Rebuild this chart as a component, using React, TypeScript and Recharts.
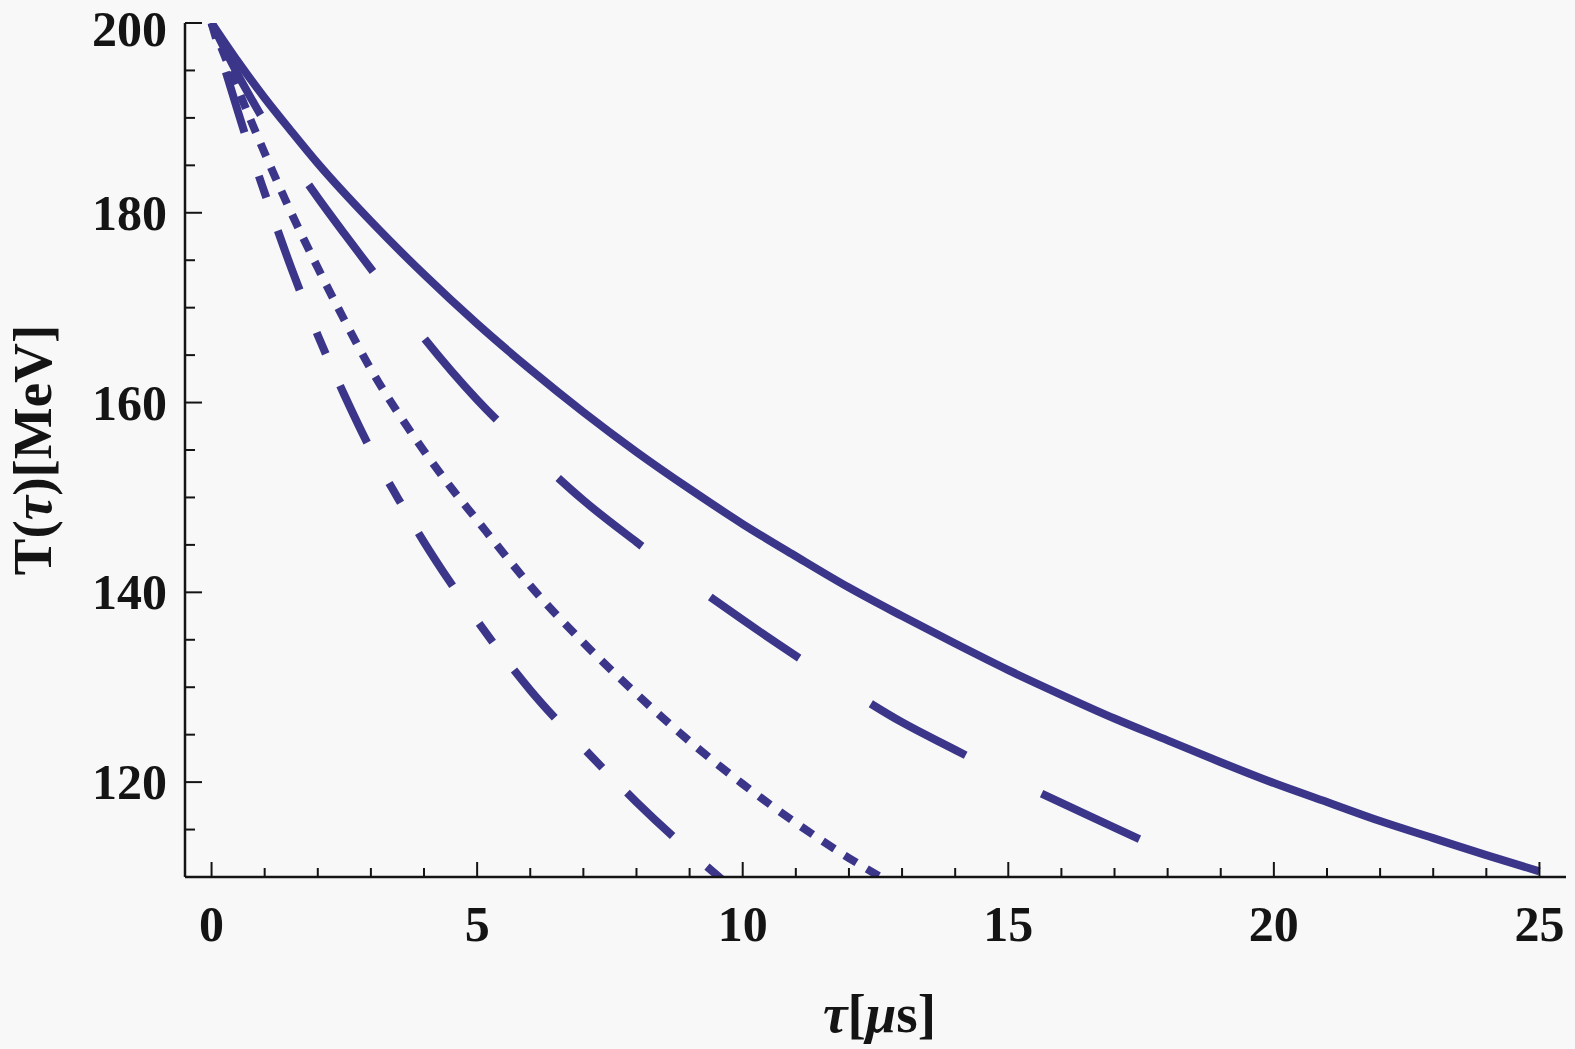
import { Label, Line, LineChart, XAxis, YAxis } from 'recharts'

// tau in microseconds, T in MeV
const solidTau = [0, 0.5, 1, 1.5, 2, 3, 4, 5, 6, 7, 8, 9, 10, 11, 12, 13, 14, 15, 16, 17, 18, 19, 20, 21, 22, 23, 24, 25]
const solidT = [200, 195.9, 192.1, 188.6, 185.2, 179.1, 173.5, 168.3, 163.5, 159.0, 154.8, 150.9, 147.2, 143.8, 140.5, 137.5, 134.6, 131.8, 129.2, 126.7, 124.4, 122.1, 119.9, 117.9, 115.9, 114.1, 112.3, 110.6]

const longDashTau = [0, 0.25, 0.5, 0.75, 1, 1.5, 2, 2.5, 3, 3.5, 4, 5, 6, 7, 8, 9, 10, 11, 12, 13, 14, 15, 16, 17, 18, 18.5]
const longDashT = [200, 197.2, 194.5, 192.0, 189.6, 185.6, 181.6, 177.8, 174.1, 170.4, 166.8, 160.3, 154.8, 149.7, 145.3, 141.1, 137.1, 133.3, 129.7, 126.3, 123.4, 120.5, 117.8, 115.2, 112.6, 111.3]

const dottedTau = [0, 0.25, 0.5, 0.75, 1, 1.5, 2, 2.5, 3, 3.5, 4, 4.5, 5, 5.5, 6, 7, 8, 9, 10, 11, 12, 13]
const dottedT = [200, 196.5, 193.0, 189.6, 186.3, 180.0, 174.2, 168.7, 163.5, 159.0, 154.9, 151.1, 147.6, 144.1, 140.7, 134.7, 129.3, 124.3, 119.8, 115.7, 112.0, 108.7]

const dashDotTau = [0, 0.25, 0.5, 0.75, 1, 1.5, 2, 2.5, 3, 3.5, 4, 4.5, 5, 5.5, 6, 7, 8, 9, 10]
const dashDotT = [200, 195.2, 190.6, 186.2, 182.1, 174.2, 167.1, 160.8, 155.0, 150.0, 145.3, 141.0, 137.0, 133.2, 129.7, 123.6, 117.9, 112.7, 107.9]

const xTicks = [0, 1, 2, 3, 4, 5, 6, 7, 8, 9, 10, 11, 12, 13, 14, 15, 16, 17, 18, 19, 20, 21, 22, 23, 24, 25]
const yTicks = [115, 120, 125, 130, 135, 140, 145, 150, 155, 160, 165, 170, 175, 180, 185, 190, 195, 200]

const toPoints = (tau: number[], temp: number[]) => tau.map((t, i) => ({ tau: t, T: temp[i] }))

const solid = toPoints(solidTau, solidT)
const longDash = toPoints(longDashTau, longDashT)
const dotted = toPoints(dottedTau, dottedT)
const dashDot = toPoints(dashDotTau, dashDotT)

const INK = '#141414'
const LINE = '#3b3689'
const FONT = '"Liberation Serif", "Times New Roman", serif'

function BottomTick({ x, y, payload }: any) {
  const major = payload.value % 5 === 0
  return (
    <g>
      <line x1={x} x2={x} y1={y} y2={y - (major ? 15 : 9)} stroke={INK} strokeWidth={2} />
      {major && (
        <text x={x} y={y + 64} textAnchor="middle" fontFamily={FONT} fontWeight="bold" fontSize={50} fill={INK}>
          {payload.value}
        </text>
      )}
    </g>
  )
}

function TopTick({ x, y, payload }: any) {
  const major = payload.value % 5 === 0
  return <line x1={x} x2={x} y1={y} y2={y + (major ? 15 : 9)} stroke={INK} strokeWidth={2} />
}

function LeftTick({ x, y, payload }: any) {
  const major = payload.value % 20 === 0
  // the top label sits a little lower so it stays inside the page
  const baseline = Math.max(y + 17, 46)
  return (
    <g>
      <line x1={x} x2={x + (major ? 17 : 10)} y1={y} y2={y} stroke={INK} strokeWidth={2} />
      {major && (
        <text x={x - 18} y={baseline} textAnchor="end" fontFamily={FONT} fontWeight="bold" fontSize={50} fill={INK}>
          {payload.value}
        </text>
      )}
    </g>
  )
}

function RightTick({ x, y, payload }: any) {
  const major = payload.value % 20 === 0
  return <line x1={x} x2={x - (major ? 17 : 10)} y1={y} y2={y} stroke={INK} strokeWidth={2} />
}

function XTitle({ viewBox }: any) {
  const cx = viewBox.x + viewBox.width / 2 + 4
  return (
    <text x={cx} y={1032} textAnchor="middle" fontFamily={FONT} fontWeight="bold" fontSize={55} fill={INK}>
      <tspan fontStyle="italic">τ</tspan>
      <tspan>[</tspan>
      <tspan fontStyle="italic">μ</tspan>
      <tspan>s]</tspan>
    </text>
  )
}

function YTitle({ viewBox }: any) {
  const cy = viewBox.y + viewBox.height / 2
  const bx = 51
  return (
    <text
      x={bx}
      y={cy}
      transform={`rotate(-90, ${bx}, ${cy})`}
      textAnchor="middle"
      fontFamily={FONT}
      fontWeight="bold"
      fontSize={55}
      fill={INK}
    >
      T(<tspan fontStyle="italic">τ</tspan>)[MeV]
    </text>
  )
}

export default function App() {
  return (
    <div style={{ position: 'fixed', left: 0, top: 0, width: 1575, height: 1049, background: '#f8f8f8' }}>
      <LineChart width={1575} height={1049} margin={{ top: 23, right: 9, left: 0, bottom: 0 }}>
        <XAxis
          xAxisId="b"
          type="number"
          dataKey="tau"
          domain={[-0.5, 25.5]}
          allowDataOverflow
          ticks={xTicks}
          interval={0}
          height={172}
          tickSize={0}
          tickMargin={0}
          tickLine={false}
          tick={<BottomTick />}
          axisLine={{ stroke: INK, strokeWidth: 2.5 }}
          label={<Label content={XTitle} />}
        />
        <XAxis
          xAxisId="t"
          orientation="top"
          type="number"
          dataKey="tau"
          domain={[-0.5, 25.5]}
          allowDataOverflow
          ticks={xTicks}
          interval={0}
          height={0}
          tickSize={0}
          tickMargin={0}
          tickLine={false}
          tick={<TopTick />}
          axisLine={{ stroke: INK, strokeWidth: 2.5 }}
        />
        <YAxis
          yAxisId="l"
          type="number"
          domain={[110, 200]}
          allowDataOverflow
          ticks={yTicks}
          interval={0}
          width={185}
          tickSize={0}
          tickMargin={0}
          tickLine={false}
          tick={<LeftTick />}
          axisLine={{ stroke: INK, strokeWidth: 2.5 }}
          label={<Label content={YTitle} />}
        />
        <YAxis
          yAxisId="r"
          orientation="right"
          type="number"
          domain={[110, 200]}
          allowDataOverflow
          ticks={yTicks}
          interval={0}
          width={0}
          tickSize={0}
          tickMargin={0}
          tickLine={false}
          tick={<RightTick />}
          axisLine={{ stroke: INK, strokeWidth: 2.5 }}
        />
        <Line
          xAxisId="b"
          yAxisId="l"
          data={dashDot}
          dataKey="T"
          type="monotone"
          stroke={LINE}
          strokeWidth={8}
          strokeDasharray="63 46 23 35"
          strokeDashoffset={116}
          dot={false}
          activeDot={false}
          isAnimationActive={false}
        />
        <Line
          xAxisId="b"
          yAxisId="l"
          data={dotted}
          dataKey="T"
          type="monotone"
          stroke={LINE}
          strokeWidth={8}
          strokeDasharray="14 12"
          dot={false}
          activeDot={false}
          isAnimationActive={false}
        />
        <Line
          xAxisId="b"
          yAxisId="l"
          data={longDash}
          dataKey="T"
          type="monotone"
          stroke={LINE}
          strokeWidth={8}
          strokeDasharray="108 85"
          strokeDashoffset={4}
          dot={false}
          activeDot={false}
          isAnimationActive={false}
        />
        <Line
          xAxisId="b"
          yAxisId="l"
          data={solid}
          dataKey="T"
          type="monotone"
          stroke={LINE}
          strokeWidth={8}
          dot={false}
          activeDot={false}
          isAnimationActive={false}
        />
      </LineChart>
    </div>
  )
}
